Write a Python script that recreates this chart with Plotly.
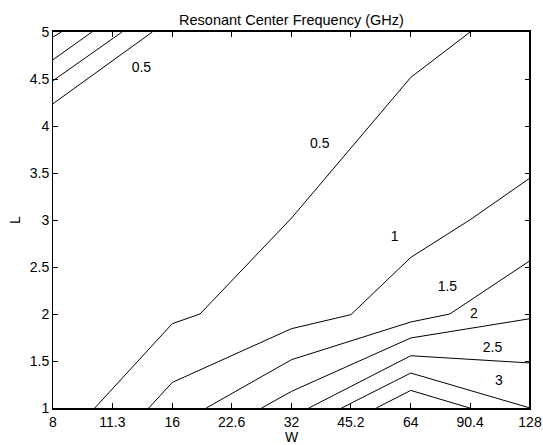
import plotly.graph_objects as go

# Tick labels
x_tickvals = [8, 11.3, 16, 22.6, 32, 45.2, 64, 90.4, 128]
x_ticktext = ["8", "11.3", "16", "22.6", "32", "45.2", "64", "90.4", "128"]
y_tickvals = [1, 1.5, 2, 2.5, 3, 3.5, 4, 4.5, 5]
y_ticktext = ["1", "1.5", "2", "2.5", "3", "3.5", "4", "4.5", "5"]

# Contour lines (W, L vertices)
corner_a_W = [8, 8.40]
corner_a_L = [4.947, 5]
corner_b_W = [8, 10.03]
corner_b_L = [4.705, 5]
corner_c_W = [8, 11.95]
corner_c_L = [4.482, 5]
corner_d_W = [8, 14.25]
corner_d_L = [4.237, 5]

c05_W = [10.2, 16, 18.8, 32, 64, 90.4]
c05_L = [1, 1.897, 2.0, 3.02, 4.517, 5]
c10_W = [13.96, 16, 32, 45.2, 64, 90.4, 128]
c10_L = [1, 1.272, 1.844, 1.993, 2.602, 3.003, 3.447]
c15_W = [19.5, 32, 64, 80.3, 128]
c15_L = [1, 1.514, 1.915, 2.0, 2.567]
c20_W = [26.9, 32, 64, 128]
c20_L = [1, 1.177, 1.745, 1.95]
c25_W = [35.4, 64, 128]
c25_L = [1, 1.556, 1.479]
c30_W = [42.8, 64, 128]
c30_L = [1, 1.372, 1.0]
c35_W = [52.4, 64, 90.2]
c35_L = [1, 1.187, 1.0]

# Contour labels
label_text = ["0.5", "0.5", "1", "1.5", "2", "2.5", "3"]
label_W = [13.37, 37.7, 58.3, 79.2, 92.4, 102.9, 106.9]
label_L = [4.617, 3.80, 2.81, 2.287, 2.0, 1.638, 1.283]

lines = [
    (corner_a_W, corner_a_L), (corner_b_W, corner_b_L),
    (corner_c_W, corner_c_L), (corner_d_W, corner_d_L),
    (c05_W, c05_L), (c10_W, c10_L), (c15_W, c15_L), (c20_W, c20_L),
    (c25_W, c25_L), (c30_W, c30_L), (c35_W, c35_L),
]

FONT = "Liberation Sans, Arial, sans-serif"
FS = 14
fig = go.Figure()
for w, l in lines:
    fig.add_trace(go.Scatter(x=w, y=l, mode="lines",
                             line=dict(color="black", width=1),
                             hoverinfo="skip", showlegend=False))
fig.add_trace(go.Scatter(x=label_W, y=label_L, mode="text", text=label_text,
                         textfont=dict(family=FONT, size=FS, color="black"),
                         textposition="middle center",
                         hoverinfo="skip", showlegend=False))

fig.update_layout(
    width=543, height=445,
    margin=dict(l=53, r=13, t=32, b=37, autoexpand=False),
    paper_bgcolor="white", plot_bgcolor="white",
    font=dict(family=FONT, size=FS, color="black"),
    title=dict(text="Resonant Center Frequency (GHz)", x=0.5, xanchor="center",
               xref="paper", y=1 - 20 / 445, yanchor="middle",
               automargin=False,
               font=dict(family=FONT, size=14.5, color="black")),
    xaxis=dict(type="log", range=[0.90309, 2.10721], automargin=False,
               tickvals=x_tickvals, ticktext=x_ticktext,
               ticks="inside", ticklen=5, tickcolor="black", tickwidth=1,
               showline=True, linecolor="black", linewidth=2, mirror="ticks",
               showgrid=False, zeroline=False,
               title=dict(text="W", standoff=0, font=dict(size=FS))),
    yaxis=dict(range=[1, 5], tickvals=y_tickvals, ticktext=y_ticktext,
               automargin=False,
               ticks="inside", ticklen=5, tickcolor="black", tickwidth=1,
               showline=True, linecolor="black", linewidth=1, mirror="ticks",
               showgrid=False, zeroline=False,
               title=dict(text="L", standoff=5, font=dict(size=FS))),
)
fig.add_shape(type="line", xref="paper", yref="paper", x0=1, x1=1, y0=0, y1=1,
              line=dict(color="black", width=2))

fig.write_html("out.html",
               config={"displayModeBar": False, "staticPlot": True},
               post_script="document.body.style.margin='0';"
                           "document.body.style.overflow='hidden';")
